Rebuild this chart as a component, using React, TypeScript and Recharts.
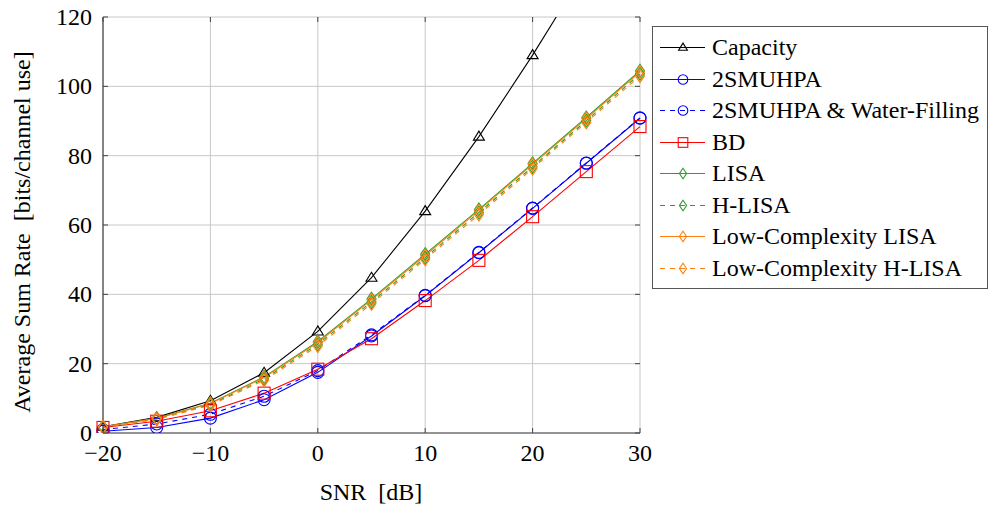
import React from 'react';
import { LineChart, Line, XAxis, YAxis, CartesianGrid } from 'recharts';

const snr = [-20, -15, -10, -5, 0, 5, 10, 15, 20, 25, 30];
const capacity = [1.8, 4.5, 9.3, 17.4, 29.3, 44.8, 64, 85.5, 109, 134, 160];
const twoSmuhpa = [0.5, 1.6, 4.3, 9.6, 17.5, 28, 39.6, 52, 64.8, 77.8, 90.8];
const twoSmuhpaWf = [1.0, 2.6, 5.4, 10.6, 18.0, 28.3, 39.7, 52.1, 64.9, 77.9, 90.9];
const bd = [1.6, 3.4, 6.4, 11.5, 18.4, 27.2, 38.2, 49.8, 62.4, 75.4, 88.4];
const lisa = [1.8, 4.3, 8.6, 16.2, 26.4, 38.7, 51.6, 64.5, 77.8, 91.0, 104.5];
const hLisa = [1.7, 4.1, 8.2, 15.6, 25.6, 37.8, 50.6, 63.6, 76.8, 90.1, 103.6];
const lcLisa = [1.8, 4.2, 8.5, 16.0, 26.1, 38.4, 51.2, 64.2, 77.5, 90.7, 104.2];
const lcHLisa = [1.6, 3.9, 8.0, 15.2, 25.1, 37.3, 50.1, 63.0, 76.3, 89.6, 103.0];

const xTicks = [-20, -10, 0, 10, 20, 30];
const yTicks = [0, 20, 40, 60, 80, 100, 120];

const FONT = 'Liberation Serif, serif';
const GREEN = '#2ca02c';
const ORANGE = '#ff7f0e';

type Shape = 'triangle' | 'circle' | 'square' | 'diamond';

const series: { key: string; name: string; values: number[]; color: string; dashed: boolean; shape: Shape }[] = [
  { key: 'capacity', name: 'Capacity', values: capacity, color: '#000000', dashed: false, shape: 'triangle' },
  { key: 'twoSmuhpa', name: '2SMUHPA', values: twoSmuhpa, color: '#0000ff', dashed: false, shape: 'circle' },
  { key: 'twoSmuhpaWf', name: '2SMUHPA & Water-Filling', values: twoSmuhpaWf, color: '#0000ff', dashed: true, shape: 'circle' },
  { key: 'bd', name: 'BD', values: bd, color: '#ff0000', dashed: false, shape: 'square' },
  { key: 'lisa', name: 'LISA', values: lisa, color: GREEN, dashed: false, shape: 'diamond' },
  { key: 'hLisa', name: 'H-LISA', values: hLisa, color: GREEN, dashed: true, shape: 'diamond' },
  { key: 'lcLisa', name: 'Low-Complexity LISA', values: lcLisa, color: ORANGE, dashed: false, shape: 'diamond' },
  { key: 'lcHLisa', name: 'Low-Complexity H-LISA', values: lcHLisa, color: ORANGE, dashed: true, shape: 'diamond' },
];

const data = snr.map((x, i) => {
  const row: Record<string, number> = { snr: x };
  series.forEach((s) => { row[s.key] = s.values[i]; });
  return row;
});

const PLOT_LEFT = 103;
const PLOT_RIGHT = 640;
const PLOT_TOP = 17;
const PLOT_BOTTOM = 433;
const DASH = '5 5';

function Marker({ shape, cx, cy, color, small }: { shape: Shape; cx: number; cy: number; color: string; small?: boolean }) {
  const k = small ? 0.8 : 1;
  if (shape === 'triangle') {
    const w = 5.5 * k;
    return <polygon points={`${cx},${cy - 5.5 * k} ${cx - w},${cy + 3.5 * k} ${cx + w},${cy + 3.5 * k}`} fill="none" stroke={color} strokeWidth={1.1} />;
  }
  if (shape === 'circle') {
    return <circle cx={cx} cy={cy} r={6 * k} fill="none" stroke={color} strokeWidth={1.1} />;
  }
  if (shape === 'square') {
    const s = 6 * k;
    return <rect x={cx - s} y={cy - s} width={2 * s} height={2 * s} fill="none" stroke={color} strokeWidth={1.1} />;
  }
  const w = 4.5 * k, h = 6.5 * k;
  return <polygon points={`${cx},${cy - h} ${cx + w},${cy} ${cx},${cy + h} ${cx - w},${cy}`} fill="none" stroke={color} strokeWidth={1.1} />;
}

const XTick = (props: any) => {
  const { x, payload } = props;
  const v = payload.value as number;
  const label = v < 0 ? `\u2212${Math.abs(v)}` : `${v}`;
  return (
    <g>
      <line x1={x} x2={x} y1={PLOT_BOTTOM} y2={PLOT_BOTTOM - 5} stroke="#444" />
      <line x1={x} x2={x} y1={PLOT_TOP} y2={PLOT_TOP + 5} stroke="#444" />
      <text x={x} y={PLOT_BOTTOM + 28} textAnchor="middle" fontFamily={FONT} fontSize={24} fill="#000">{label}</text>
    </g>
  );
};

const YTick = (props: any) => {
  const { y, payload } = props;
  return (
    <g>
      <line x1={PLOT_LEFT} x2={PLOT_LEFT + 5} y1={y} y2={y} stroke="#444" />
      <line x1={PLOT_RIGHT - 5} x2={PLOT_RIGHT} y1={y} y2={y} stroke="#444" />
      <text x={PLOT_LEFT - 11} y={y + 8} textAnchor="end" fontFamily={FONT} fontSize={24} fill="#000">{payload.value}</text>
    </g>
  );
};

function LegendBox() {
  return (
    <div style={{ position: 'absolute', left: 652, top: 26, width: 336, height: 263, border: '1px solid #555', background: '#fff', boxSizing: 'border-box' }}>
      {series.map((s, i) => (
        <div key={s.key} style={{ position: 'absolute', left: 0, top: 5 + i * 31.5, height: 31, display: 'flex', alignItems: 'center' }}>
          <svg width={59} height={31} style={{ display: 'block' }}>
            <line x1={7} x2={52} y1={15.5} y2={15.5} stroke={s.color} strokeWidth={1.1} strokeDasharray={s.dashed ? DASH : undefined} />
            <Marker shape={s.shape} cx={30} cy={15.5} color={s.color} small />
          </svg>
          <span style={{ fontFamily: FONT, fontSize: 24, color: '#000', whiteSpace: 'nowrap' }}>{s.name}</span>
        </div>
      ))}
    </div>
  );
}

export default function App() {
  return (
    <div style={{ position: 'fixed', left: 0, top: 0, width: 989, height: 506, background: '#fff', fontFamily: FONT }}>
      <LineChart width={989} height={506} data={data} margin={{ top: PLOT_TOP, right: 989 - PLOT_RIGHT, bottom: 0, left: 0 }} style={{ fontFamily: FONT }}>
        <CartesianGrid stroke="#c8c8c8" strokeWidth={1} />
        <XAxis
          dataKey="snr"
          type="number"
          domain={[-20, 30]}
          ticks={xTicks}
          height={506 - PLOT_BOTTOM}
          tickSize={0}
          tickLine={false}
          axisLine={{ stroke: '#444', strokeWidth: 1.2 }}
          tick={<XTick />}
          interval={0}
        />
        <YAxis
          type="number"
          domain={[0, 120]}
          ticks={yTicks}
          allowDataOverflow
          width={PLOT_LEFT}
          tickSize={0}
          tickLine={false}
          axisLine={{ stroke: '#444', strokeWidth: 1.2 }}
          tick={<YTick />}
          interval={0}
        />
        {series.map((s) => (
          <Line
            key={s.key}
            dataKey={s.key}
            name={s.name}
            type="linear"
            stroke={s.color}
            strokeWidth={1.1}
            strokeDasharray={s.dashed ? DASH : undefined}
            isAnimationActive={false}
            dot={(p: any) => <Marker key={`${s.key}-${p.index}`} shape={s.shape} cx={p.cx} cy={p.cy} color={s.color} />}
            activeDot={false}
          />
        ))}
        <text x={371} y={500} textAnchor="middle" fontFamily={FONT} fontSize={24} fill="#000" style={{ whiteSpace: 'pre' }}>{'SNR  [dB]'}</text>
        <text x={30} y={232} textAnchor="middle" transform="rotate(-90 30 232)" fontFamily={FONT} fontSize={24} fill="#000" style={{ whiteSpace: 'pre' }}>{'Average Sum Rate  [bits/channel use]'}</text>
      </LineChart>
      <LegendBox />
    </div>
  );
}
